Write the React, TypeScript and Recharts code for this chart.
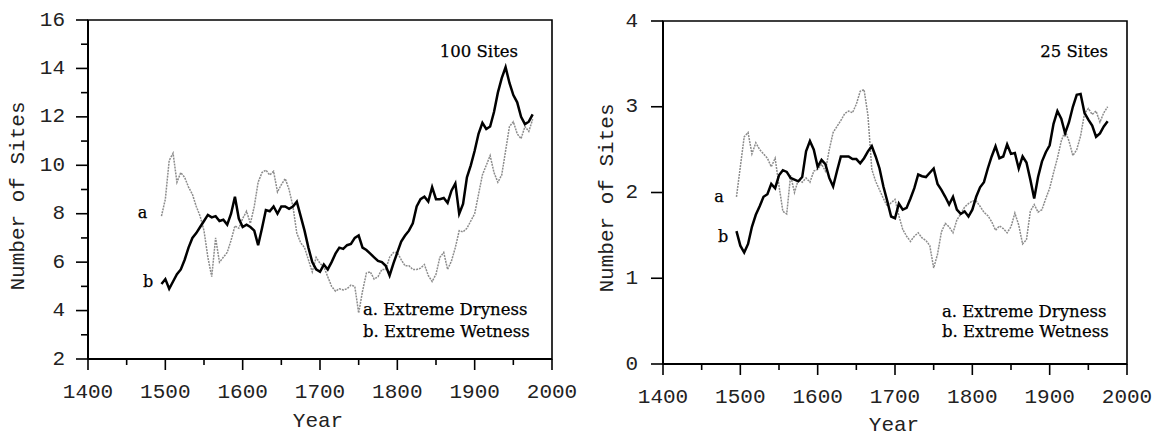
import React from 'react'
import { LineChart, Line, XAxis, YAxis, ReferenceArea } from 'recharts'

// 5-year steps, 1495..1975
const years = Array.from({ length: 97 }, (_, i) => 1495 + i * 5)

const dry100 = [
  7.9, 8.6, 10.2, 10.5, 9.3, 9.7, 9.5, 9.1, 8.8, 8.3, 7.9, 7.3, 6.2, 5.4, 7.0, 6.0, 6.2, 6.4, 6.9, 7.5,
  7.4, 7.8, 8.1, 7.6, 8.3, 9.3, 9.7, 9.8, 9.6, 9.75, 8.9, 9.2, 9.45, 9.0, 8.3, 7.2, 6.8, 6.6, 6.1, 5.6,
  6.2, 5.95, 5.8, 5.4, 5.0, 4.8, 4.9, 4.85, 4.9, 5.05, 5.0, 3.9, 4.8, 5.55, 5.6, 5.3, 5.4, 5.7, 5.7, 6.2,
  6.4, 6.4, 6.1, 5.85, 5.85, 5.7, 5.7, 5.75, 5.9, 5.45, 5.2, 5.5, 6.2, 6.4, 5.7, 6.05, 6.6, 7.3, 7.25, 7.4,
  7.7, 8.0, 8.8, 9.6, 10.0, 10.4, 9.7, 9.3, 9.6, 10.6, 11.6, 11.8, 11.3, 11.1, 11.6, 11.4, 11.9,
]
const wet100 = [
  5.1, 5.3, 4.9, 5.2, 5.5, 5.7, 6.1, 6.6, 7.0, 7.2, 7.45, 7.7, 7.95, 7.85, 7.9, 7.7, 7.75, 7.55, 8.0, 8.7,
  7.8, 7.45, 7.55, 7.45, 7.3, 6.7, 7.4, 8.15, 8.1, 8.3, 8.0, 8.3, 8.3, 8.2, 8.3, 8.5, 7.9, 7.3, 6.6, 6.0,
  5.7, 5.6, 5.9, 5.7, 6.0, 6.35, 6.6, 6.55, 6.7, 6.75, 7.0, 7.1, 6.6, 6.5, 6.35, 6.2, 6.05, 6.0, 5.85, 5.45,
  5.95, 6.4, 6.85, 7.1, 7.3, 7.6, 8.3, 8.6, 8.7, 8.5, 9.1, 8.6, 8.6, 8.65, 8.45, 8.95, 9.25, 8.0, 8.4, 9.5,
  10.0, 10.6, 11.3, 11.75, 11.5, 11.6, 12.2, 13.0, 13.6, 14.05, 13.4, 12.9, 12.6, 12.0, 11.7, 11.8, 12.1,
]
const dry25 = [
  1.95, 2.3, 2.65, 2.7, 2.45, 2.58, 2.5, 2.45, 2.4, 2.3, 2.4, 2.08, 1.78, 1.75, 2.2, 2.0, 2.15, 2.12, 2.17, 2.12,
  2.25, 2.27, 2.33, 2.25, 2.5, 2.7, 2.77, 2.84, 2.92, 2.95, 2.93, 3.03, 3.18, 3.2, 2.9, 2.27, 2.13, 2.03, 1.93, 1.84,
  1.88, 1.92, 1.73, 1.57, 1.49, 1.43, 1.49, 1.53, 1.47, 1.44, 1.38, 1.12, 1.28, 1.54, 1.64, 1.6, 1.53, 1.68, 1.75, 1.83,
  1.87, 1.9, 1.9, 1.84, 1.77, 1.73, 1.66, 1.56, 1.61, 1.58, 1.53, 1.6, 1.76, 1.62, 1.4, 1.45, 1.78, 1.86, 1.77, 1.8,
  1.93, 2.05, 2.23, 2.4, 2.6, 2.72, 2.6, 2.43, 2.5, 2.66, 2.92, 2.98, 2.91, 2.95, 2.82, 2.93, 3.0,
]
const wet25 = [
  1.55, 1.38, 1.3, 1.4, 1.6, 1.74, 1.84, 1.95, 1.98, 2.1, 2.05, 2.2, 2.26, 2.24, 2.17, 2.15, 2.13, 2.18, 2.48, 2.6,
  2.5, 2.3, 2.38, 2.33, 2.17, 2.07, 2.25, 2.42, 2.42, 2.42, 2.39, 2.39, 2.34, 2.4, 2.48, 2.54, 2.42, 2.28, 2.07, 1.9,
  1.72, 1.7, 1.87, 1.8, 1.82, 1.93, 2.05, 2.21, 2.19, 2.18, 2.23, 2.28, 2.1, 2.03, 1.95, 1.86, 1.95, 1.8, 1.75, 1.78,
  1.72, 1.8, 1.95, 2.06, 2.12, 2.28, 2.42, 2.54, 2.4, 2.42, 2.56, 2.45, 2.46, 2.28, 2.42, 2.35, 2.15, 1.93, 2.18, 2.36,
  2.47, 2.55, 2.8, 2.95, 2.86, 2.69, 2.82, 3.0, 3.14, 3.15, 2.93, 2.85, 2.78, 2.65, 2.69, 2.77, 2.83,
]

const yearTicks = [1400, 1450, 1500, 1550, 1600, 1650, 1700, 1750, 1800, 1850, 1900, 1950, 2000]
const ticks100 = [2, 3, 4, 5, 6, 7, 8, 9, 10, 11, 12, 13, 14, 15, 16]
const ticks25 = [0, 1, 2, 3, 4]

const data100 = years.map((year, i) => ({ year, dry: dry100[i], wet: wet100[i] }))
const data25 = years.map((year, i) => ({ year, dry: dry25[i], wet: wet25[i] }))

const mono = '"Liberation Mono", "Courier New", monospace'
const serif = '"DejaVu Serif", "Liberation Serif", serif'

const yTick = (isMajor: (v: number) => boolean, gap: number) => (props: any) => {
  const { x, y, payload } = props
  const major = isMajor(payload.value)
  return (
    <g>
      <line x1={x} x2={x - (major ? 12 : 7)} y1={y} y2={y} stroke="#000" strokeWidth={1.6} />
      {major && (
        <text x={x - gap} y={y} textAnchor="end" dominantBaseline="central" fontFamily={mono} fontSize={21} fill="#222">
          {payload.value}
        </text>
      )}
    </g>
  )
}

const xTick = (props: any) => {
  const { x, y, payload } = props
  const major = payload.value % 100 === 0
  return (
    <g>
      <line x1={x} x2={x} y1={y} y2={y + (major ? 11 : 6)} stroke="#000" strokeWidth={1.6} />
      {major && (
        <text x={x} y={y + 33} textAnchor="middle" dominantBaseline="central" fontFamily={mono} fontSize={21} fill="#222">
          {payload.value}
        </text>
      )}
    </g>
  )
}

const serifText = { fontFamily: serif, fill: '#000', stroke: '#000', strokeWidth: 0.25 }

function Panel(props: any) {
  const { data, yDomain, yTicks, tickFn, width, margin, yWidth, xHeight, label } = props
  return (
    <LineChart width={width} height={435} data={data} margin={margin}>
      <XAxis
        dataKey="year"
        type="number"
        domain={[1400, 2000]}
        ticks={yearTicks}
        interval={0}
        tickSize={0}
        tickMargin={0}
        tick={xTick}
        height={xHeight}
        axisLine={{ stroke: '#000', strokeWidth: 2 }}
      />
      <YAxis
        type="number"
        domain={yDomain}
        ticks={yTicks}
        interval={0}
        tickSize={0}
        tickMargin={0}
        tick={tickFn}
        width={yWidth}
        axisLine={{ stroke: '#000', strokeWidth: 2 }}
      />
      <ReferenceArea x1={1400} x2={2000} y1={yDomain[0]} y2={yDomain[1]} fill="none" stroke="#000" strokeWidth={1.6} />
      <Line type="linear" dataKey="dry" stroke="#8c8c8c" strokeWidth={1.5} strokeDasharray="2 1" dot={false} isAnimationActive={false} />
      <Line type="linear" dataKey="wet" stroke="#000" strokeWidth={2.5} dot={false} isAnimationActive={false} />
      <text x={label.ylx} y={label.yly} transform={`rotate(-90, ${label.ylx}, ${label.yly})`} textAnchor="middle" dominantBaseline="central" fontFamily={mono} fontSize={21} fill="#222">
        Number of Sites
      </text>
      <text x={label.xlx} y={label.xly} textAnchor="middle" dominantBaseline="central" fontFamily={mono} fontSize={21} fill="#222">
        Year
      </text>
      <text x={label.ax} y={label.ay} textAnchor="middle" fontSize={16} {...serifText}>a</text>
      <text x={label.bx} y={label.by} textAnchor="middle" fontSize={16} {...serifText}>b</text>
      <text x={label.tx} y={label.ty} textAnchor="end" fontSize={16.5} {...serifText}>{label.title}</text>
      <text x={label.lx} y={label.l1} fontSize={16.5} {...serifText}>a. Extreme Dryness</text>
      <text x={label.lx} y={label.l2} fontSize={16.5} {...serifText}>b. Extreme Wetness</text>
    </LineChart>
  )
}

export default function App() {
  return (
    <div style={{ position: 'absolute', left: 0, top: 0, width: 1154, height: 435, background: '#fff' }}>
      <div style={{ position: 'absolute', left: 0, top: 0 }}>
        <Panel
          data={data100}
          yDomain={[2, 16]}
          yTicks={ticks100}
          tickFn={yTick((v) => v % 2 === 0, 23)}
          width={580}
          margin={{ top: 20, right: 28, left: 0, bottom: 0 }}
          yWidth={88}
          xHeight={76}
          label={{ ylx: 18, yly: 196, xlx: 318, xly: 421, ax: 142.5, ay: 218, bx: 148, by: 287, tx: 518, ty: 57, title: '100 Sites', lx: 363, l1: 315, l2: 337 }}
        />
      </div>
      <div style={{ position: 'absolute', left: 580, top: 0 }}>
        <Panel
          data={data25}
          yDomain={[0, 4]}
          yTicks={ticks25}
          tickFn={yTick(() => true, 25)}
          width={574}
          margin={{ top: 21, right: 27, left: 0, bottom: 0 }}
          yWidth={83}
          xHeight={71}
          label={{ ylx: 27, yly: 198, xlx: 314, xly: 425, ax: 139, ay: 202, bx: 143, by: 242, tx: 528, ty: 57, title: '25 Sites', lx: 362, l1: 317, l2: 337 }}
        />
      </div>
    </div>
  )
}
